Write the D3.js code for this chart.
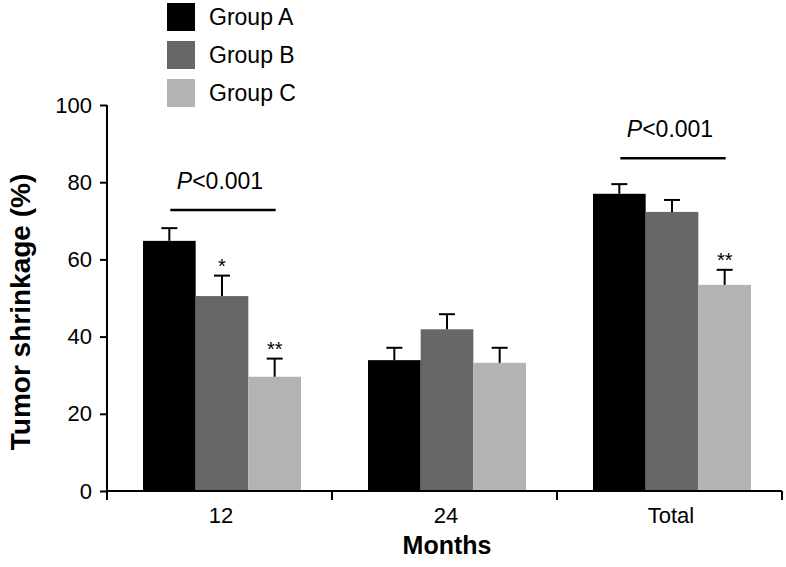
<!DOCTYPE html>
<html>
<head>
<meta charset="utf-8">
<script src="https://cdn.jsdelivr.net/npm/d3@7"></script>
<style>
  html, body { margin: 0; padding: 0; background: #fff; }
  svg { display: block; font-family: "Liberation Sans", Arial, Helvetica, sans-serif; }
</style>
</head>
<body>
<svg id="chart" width="786" height="567"></svg>
<script>
// Chart data
const categories = ['12', '24', 'Total'];
const groups = ['Group A', 'Group B', 'Group C'];
const groupColors = ['#000000', '#676767', '#b3b3b3'];

// mean tumor shrinkage (%) per category, one row per group
const groupA = [64.8, 33.9, 77.0];
const groupB = [50.5, 41.9, 72.3];
const groupC = [29.6, 33.2, 53.4];
// upper error bars
const errA = [3.3, 3.2, 2.5];
const errB = [5.3, 3.9, 3.1];
const errC = [4.7, 3.9, 3.9];

const yTicks = [0, 20, 40, 60, 80, 100];

// significance markers above single bars
const stars = [
    { category: '12', group: 'Group B', label: '*' },
    { category: '12', group: 'Group C', label: '**' },
    { category: 'Total', group: 'Group C', label: '**' }
];
// bracket lines between group A and group C
const brackets = [
    { category: '12', from: 'Group A', to: 'Group C', level: 72.8, label: 'P<0.001' },
    { category: 'Total', from: 'Group A', to: 'Group C', level: 86.2, label: 'P<0.001' }
];

const svg = d3.select('#chart');

const plot = { left: 107, right: 782, top: 105, bottom: 491 };

const x0 = d3.scaleBand().domain(categories).range([plot.left, plot.right]).paddingInner(0).paddingOuter(0);
const x1 = d3.scaleBand().domain(groups).range([36, 194]);
const y = d3.scaleLinear().domain([0, 100]).range([plot.bottom, plot.top]);
const color = d3.scaleOrdinal().domain(groups).range(groupColors);

const values = [groupA, groupB, groupC];
const errors = [errA, errB, errC];

const rows = [];
groups.forEach((g, gi) => {
    categories.forEach((c, ci) => {
        rows.push({ group: g, category: c, value: values[gi][ci], err: errors[gi][ci] });
    });
});
const rowOf = (c, g) => rows.find(r => r.category === c && r.group === g);
const barCenter = (c, g) => x0(c) + x1(g) + x1.bandwidth() / 2;

// Bars
svg.append('g')
    .selectAll('rect')
    .data(rows)
    .join('rect')
    .attr('x', d => x0(d.category) + x1(d.group))
    .attr('y', d => y(d.value))
    .attr('width', x1.bandwidth())
    .attr('height', d => y(0) - y(d.value))
    .attr('fill', d => color(d.group));

// Error bars (upper only)
const eb = svg.append('g')
    .attr('stroke', '#000')
    .attr('stroke-width', 2)
    .selectAll('g')
    .data(rows)
    .join('g');

eb.append('line')
    .attr('x1', d => barCenter(d.category, d.group))
    .attr('x2', d => barCenter(d.category, d.group))
    .attr('y1', d => y(d.value))
    .attr('y2', d => y(d.value + d.err));

eb.append('line')
    .attr('x1', d => barCenter(d.category, d.group) - 8)
    .attr('x2', d => barCenter(d.category, d.group) + 8)
    .attr('y1', d => y(d.value + d.err))
    .attr('y2', d => y(d.value + d.err));

// Y axis
const yAxis = svg.append('g')
    .attr('transform', `translate(${plot.left},0)`)
    .call(d3.axisLeft(y).tickValues(yTicks).tickSize(7).tickPadding(8));
yAxis.select('.domain').attr('stroke-width', 2).attr('d', `M0,${plot.top}V${plot.bottom}`);
yAxis.selectAll('.tick line').attr('stroke-width', 2);
yAxis.selectAll('.tick text')
    .attr('font-size', 22)
    .attr('font-family', '"Liberation Sans", Arial, sans-serif')
    .attr('fill', '#000');

// X axis: line with ticks at band boundaries
const xAxis = svg.append('g').attr('stroke', '#000').attr('stroke-width', 2);
xAxis.append('line')
    .attr('x1', plot.left).attr('x2', plot.right)
    .attr('y1', plot.bottom).attr('y2', plot.bottom);
const bounds = [x0(categories[0])].concat(categories.map(c => x0(c) + x0.bandwidth()));
xAxis.selectAll('.xtick')
    .data(bounds)
    .join('line')
    .attr('class', 'xtick')
    .attr('x1', d => d).attr('x2', d => d)
    .attr('y1', plot.bottom).attr('y2', plot.bottom + 9);

svg.append('g')
    .selectAll('text')
    .data(categories)
    .join('text')
    .attr('x', c => x0(c) + (x1.range()[0] + x1.range()[1]) / 2 - 1)
    .attr('y', 523)
    .attr('text-anchor', 'middle')
    .attr('font-size', 22)
    .text(c => c);

// Axis titles
svg.append('text')
    .attr('x', 447)
    .attr('y', 554)
    .attr('text-anchor', 'middle')
    .attr('font-size', 25)
    .attr('font-weight', 'bold')
    .text('Months');

svg.append('text')
    .attr('transform', `translate(30,${(plot.top + plot.bottom) / 2 + 14}) rotate(-90)`)
    .attr('text-anchor', 'middle')
    .attr('font-size', 28)
    .attr('font-weight', 'bold')
    .text('Tumor shrinkage (%)');

// Stars
svg.append('g')
    .selectAll('text')
    .data(stars)
    .join('text')
    .attr('x', d => barCenter(d.category, d.group))
    .attr('y', d => {
        const r = rowOf(d.category, d.group);
        return y(r.value + r.err) - 3;
    })
    .attr('text-anchor', 'middle')
    .attr('font-size', 20)
    .text(d => d.label);

// Brackets with P values
const br = svg.append('g').selectAll('g').data(brackets).join('g');
br.append('line')
    .attr('x1', d => barCenter(d.category, d.from) + 1)
    .attr('x2', d => barCenter(d.category, d.to) + 1)
    .attr('y1', d => y(d.level))
    .attr('y2', d => y(d.level))
    .attr('stroke', '#000')
    .attr('stroke-width', 2.5);

const pt = br.append('text')
    .attr('x', d => (barCenter(d.category, d.from) + barCenter(d.category, d.to)) / 2 - 2)
    .attr('y', d => y(d.level) - 21)
    .attr('text-anchor', 'middle')
    .attr('font-size', 23);
pt.append('tspan').attr('font-style', 'italic').text(d => d.label.slice(0, 1));
pt.append('tspan').text(d => d.label.slice(1));

// Legend
const legend = svg.append('g')
    .selectAll('g')
    .data(groups)
    .join('g')
    .attr('transform', (d, i) => `translate(167,${3 + i * 38})`);
legend.append('rect')
    .attr('width', 28)
    .attr('height', 28)
    .attr('fill', d => color(d));
legend.append('text')
    .attr('x', 42)
    .attr('y', 22)
    .attr('font-size', 23)
    .text(d => d);
</script>
</body>
</html>
